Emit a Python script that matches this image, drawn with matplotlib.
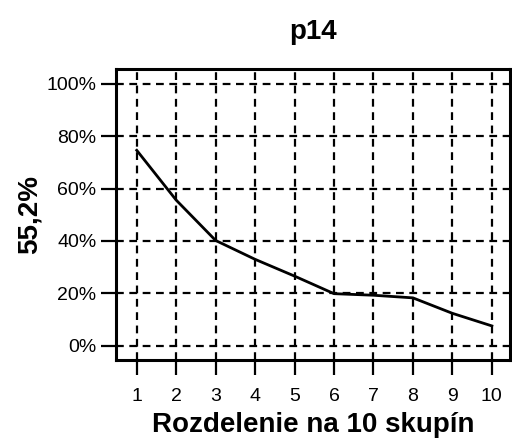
import matplotlib
matplotlib.use("Agg")
import matplotlib.pyplot as plt
from matplotlib.ticker import PercentFormatter

plt.rcParams["font.family"] = ["Liberation Sans", "DejaVu Sans"]

# data
clusters = [1, 2, 3, 4, 5, 6, 7, 8, 9, 10]
share = [74.6, 55.6, 40.2, 33.0, 26.6, 19.9, 19.3, 18.3, 12.4, 7.6]
y_ticks = [0, 20, 40, 60, 80, 100]

fig = plt.figure(figsize=(5.12, 4.43), dpi=100)
ax = fig.add_axes([0.2266, 0.1874, 0.7695, 0.6567])

ax.plot(clusters, share, color="black", linewidth=2, zorder=3)

ax.set_xlim(0.475, 10.46)
ax.set_ylim(-5.4, 105.6)
ax.set_xticks(clusters)
ax.set_yticks(y_ticks)
ax.yaxis.set_major_formatter(PercentFormatter(decimals=0))

ax.grid(True, color="black", linestyle=(0, (3.5, 2.5)), linewidth=1.6)
for s in ax.spines.values():
    s.set_linewidth(2.2)
ax.tick_params(direction="out", length=11, width=1.6, labelsize=14)
ax.tick_params(axis="x", pad=9)
ax.tick_params(axis="y", pad=3)

ax.set_title("p14", fontsize=20, fontweight="bold", pad=22)
ax.set_xlabel("Rozdelenie na 10 skupín", fontsize=20, fontweight="bold", labelpad=5)
ax.set_ylabel("55,2%", fontsize=20, fontweight="bold", labelpad=3)

fig.savefig("out.png", dpi=100)
